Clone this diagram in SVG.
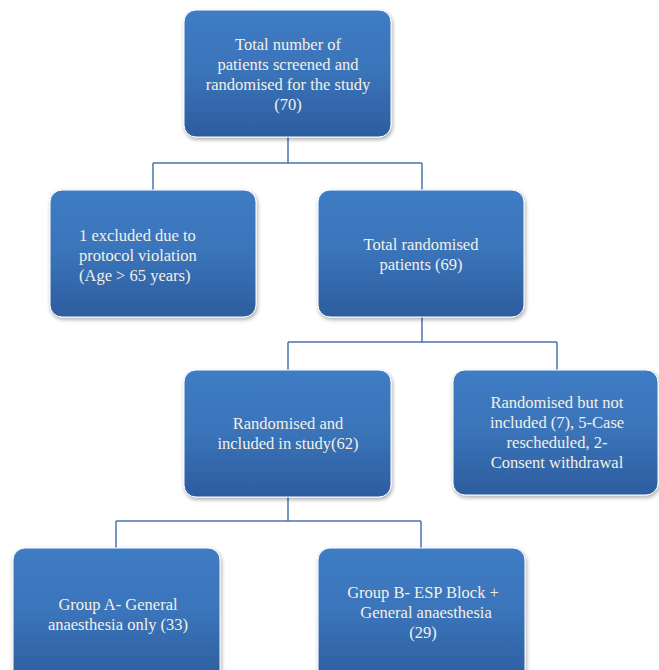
<svg xmlns="http://www.w3.org/2000/svg" width="659" height="670" viewBox="0 0 659 670">
<defs>
<linearGradient id="g" x1="0" y1="0" x2="0" y2="1">
<stop offset="0" stop-color="#3f7cc4"/>
<stop offset="0.5" stop-color="#3a73b9"/>
<stop offset="1" stop-color="#2c5d9e"/>
</linearGradient>
<filter id="sh" x="-10%" y="-10%" width="125%" height="125%">
<feGaussianBlur in="SourceAlpha" stdDeviation="2"/>
<feOffset dx="1" dy="2"/>
<feComponentTransfer><feFuncA type="linear" slope="0.35"/></feComponentTransfer>
<feMerge><feMergeNode/><feMergeNode in="SourceGraphic"/></feMerge>
</filter>
</defs>
<style>
.box{fill:url(#g);stroke:#ffffff;stroke-width:1;filter:url(#sh)}
text{font-family:"Liberation Serif","Times New Roman",serif;font-size:16.5px;fill:#f3f0e6}
.t{text-anchor:middle}
.tl{text-anchor:start}
.c{fill:none;stroke:#4a76b3;stroke-width:1.5}
</style>
<rect width="659" height="670" fill="#ffffff"/>
<g id="connectors">
<path class="c" d="M288 137 V163 M153 163 H422 M153 163 V190 M422 163 V190"/>
<path class="c" d="M422 317 V342 M288 342 H557 M288 342 V370 M557 342 V370"/>
<path class="c" d="M288 497 V521 M116 521 H421 M116 521 V548 M421 521 V548"/>
</g>
<g id="n1">
<rect class="box" x="184" y="10" width="207" height="127" rx="12"/>
<text class="t" x="288" y="50">Total number of</text>
<text class="t" x="288" y="70">patients screened and</text>
<text class="t" x="288" y="90">randomised for the study</text>
<text class="t" x="288" y="110">(70)</text>
</g>
<g id="n2">
<rect class="box" x="50" y="190" width="206" height="127" rx="12"/>
<text class="tl" x="79" y="241">1 excluded due to</text>
<text class="tl" x="79" y="261">protocol violation</text>
<text class="tl" x="79" y="281">(Age &gt; 65 years)</text>
</g>
<g id="n3">
<rect class="box" x="318" y="190" width="206" height="127" rx="12"/>
<text class="t" x="421" y="250">Total randomised</text>
<text class="t" x="421" y="270">patients (69)</text>
</g>
<g id="n4">
<rect class="box" x="184" y="370" width="207" height="127" rx="12"/>
<text class="t" x="288" y="429">Randomised and</text>
<text class="t" x="288" y="449">included in study(62)</text>
</g>
<g id="n5">
<rect class="box" x="453" y="370" width="205" height="125" rx="12"/>
<text class="t" x="557" y="408">Randomised but not</text>
<text class="t" x="557" y="428">included (7), 5-Case</text>
<text class="t" x="557" y="448">rescheduled, 2-</text>
<text class="t" x="557" y="468">Consent withdrawal</text>
</g>
<g id="n6">
<rect class="box" x="13" y="548" width="207" height="135" rx="12"/>
<text class="t" x="118" y="610">Group A- General</text>
<text class="t" x="118" y="630">anaesthesia only (33)</text>
</g>
<g id="n7">
<rect class="box" x="318" y="548" width="207" height="135" rx="12"/>
<text class="t" x="423" y="598">Group B- ESP Block +</text>
<text class="t" x="426" y="618">General anaesthesia</text>
<text class="t" x="423" y="638">(29)</text>
</g>
</svg>
